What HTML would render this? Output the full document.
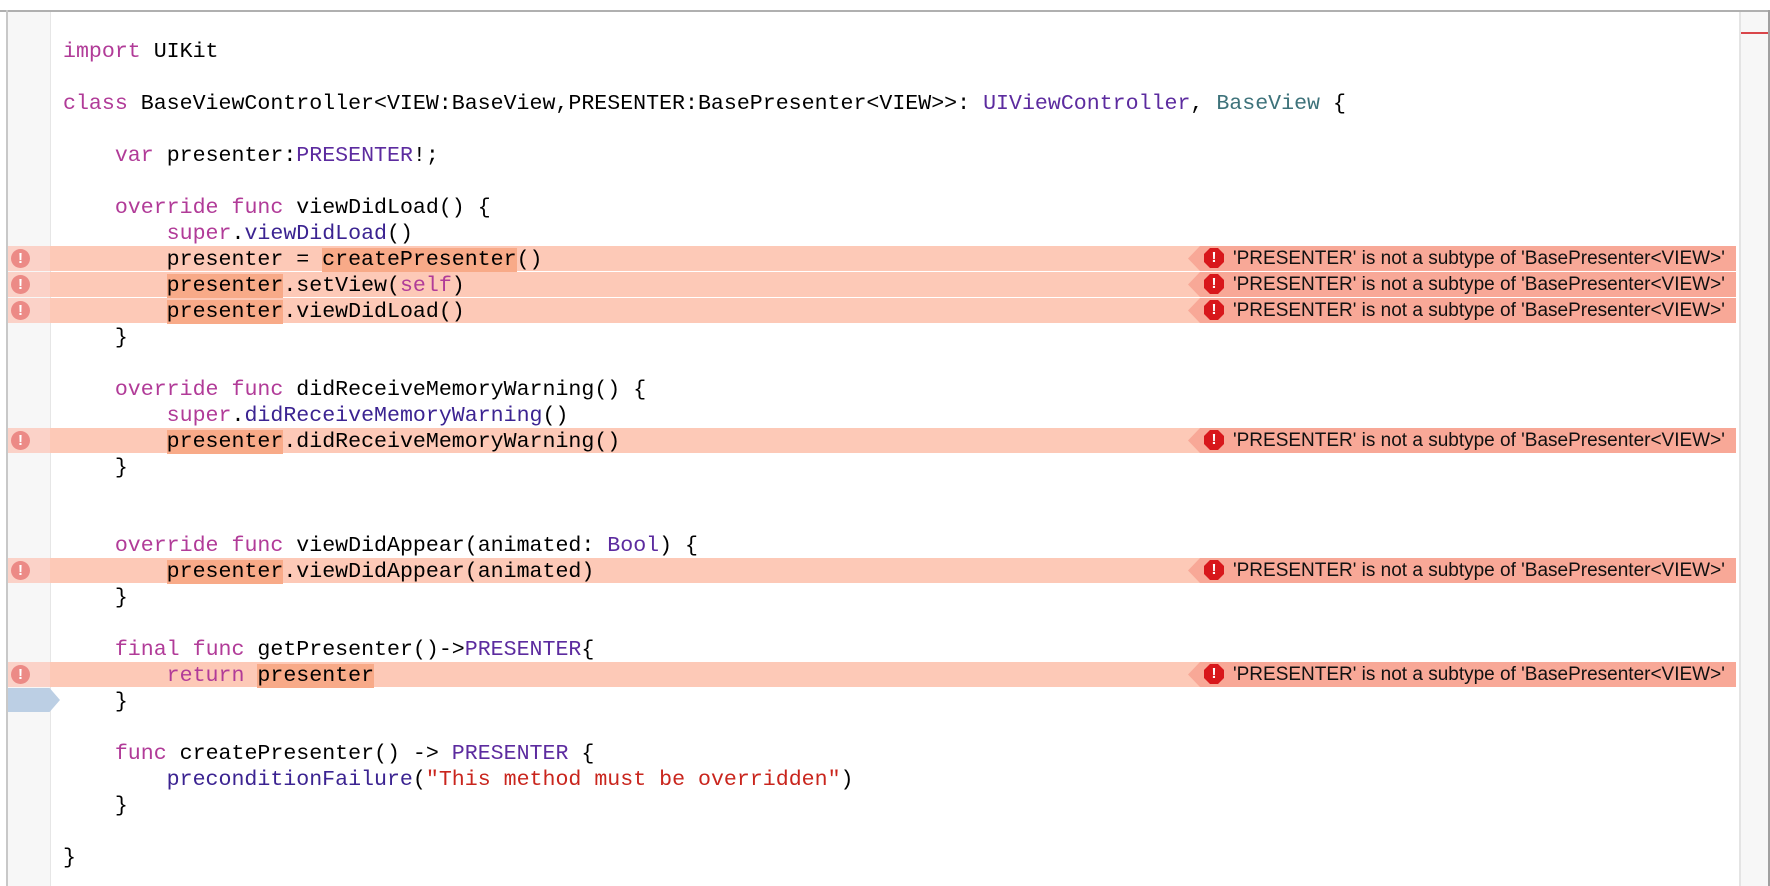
<!DOCTYPE html>
<html><head><meta charset="utf-8"><style>
html,body{margin:0;padding:0;width:1770px;height:886px;overflow:hidden;background:#fff;position:relative}
.top{position:absolute;left:0;top:10px;width:1770px;height:2px;background:#b0b0b0}
.lb{position:absolute;left:6px;top:10px;width:2px;height:876px;background:#c8c8c8}
.gut{position:absolute;left:8px;top:12px;width:42px;height:874px;background:#f7f7f7;border-right:1px solid #e6e6e6}
.rp{position:absolute;left:1739px;top:12px;width:29px;height:874px;background:#f7f7f7;border-left:2px solid #e4e4e4}
.rpl{position:absolute;left:1768px;top:10px;width:2px;height:876px;background:#a0a0a0}
.rmark{position:absolute;left:1741px;top:32px;width:27px;height:2px;background:#d9464a}
.ln{position:absolute;left:63px;height:26px;line-height:26px;font-family:"Liberation Mono",monospace;font-size:21.6px;white-space:pre;color:#000;margin-top:2px}
.k{color:#b13b98}.t{color:#5c2b9f}.c{color:#3d727a}.s{color:#c9251d}.m{color:#3b2391}
.h{background:#f8aa88;display:inline-block;height:24px;line-height:24px}
.er{position:absolute;left:8px;width:1728px;height:25px;background:#fdc9b7}
.eg{position:absolute;left:8px;width:42px;height:25px;background:#fbd2c8}
.ei{position:absolute;left:11px;width:19px;height:19px;border-radius:50%;background:#ec8a86;color:#fff;font:bold 15px/19px "Liberation Sans",sans-serif;text-align:center}
.bn{position:absolute;left:1188px;width:548px;height:25px;background:#f8a897;clip-path:polygon(12px 0,100% 0,100% 100%,12px 100%,0 50%)}
.oc{position:absolute;left:1204px;width:20px;height:20px;background:#d8171b;clip-path:polygon(30% 0,70% 0,100% 30%,100% 70%,70% 100%,30% 100%,0 70%,0 30%);color:#fff;font:bold 15px/20px "Liberation Sans",sans-serif;text-align:center}
.msg{position:absolute;left:1233px;height:25px;line-height:25px;font-family:"Liberation Sans",sans-serif;font-size:19px;color:#111;white-space:pre}
.blue{position:absolute;left:8px;top:688px;width:52px;height:24px;background:#bccfe4;clip-path:polygon(0 0,80% 0,100% 50%,80% 100%,0 100%)}
</style></head><body>
<div class="top"></div><div class="lb"></div><div class="gut"></div>
<div class="rp"></div><div class="rpl"></div><div class="rmark"></div>

<div class="er" style="top:246px"></div><div class="eg" style="top:246px"></div><div class="ei" style="top:249px">!</div><div class="bn" style="top:246px"></div><div class="oc" style="top:248px">!</div><div class="msg" style="top:246px">'PRESENTER' is not a subtype of 'BasePresenter&lt;VIEW&gt;'</div>
<div class="er" style="top:272px"></div><div class="eg" style="top:272px"></div><div class="ei" style="top:275px">!</div><div class="bn" style="top:272px"></div><div class="oc" style="top:274px">!</div><div class="msg" style="top:272px">'PRESENTER' is not a subtype of 'BasePresenter&lt;VIEW&gt;'</div>
<div class="er" style="top:298px"></div><div class="eg" style="top:298px"></div><div class="ei" style="top:301px">!</div><div class="bn" style="top:298px"></div><div class="oc" style="top:300px">!</div><div class="msg" style="top:298px">'PRESENTER' is not a subtype of 'BasePresenter&lt;VIEW&gt;'</div>
<div class="er" style="top:428px"></div><div class="eg" style="top:428px"></div><div class="ei" style="top:431px">!</div><div class="bn" style="top:428px"></div><div class="oc" style="top:430px">!</div><div class="msg" style="top:428px">'PRESENTER' is not a subtype of 'BasePresenter&lt;VIEW&gt;'</div>
<div class="er" style="top:558px"></div><div class="eg" style="top:558px"></div><div class="ei" style="top:561px">!</div><div class="bn" style="top:558px"></div><div class="oc" style="top:560px">!</div><div class="msg" style="top:558px">'PRESENTER' is not a subtype of 'BasePresenter&lt;VIEW&gt;'</div>
<div class="er" style="top:662px"></div><div class="eg" style="top:662px"></div><div class="ei" style="top:665px">!</div><div class="bn" style="top:662px"></div><div class="oc" style="top:664px">!</div><div class="msg" style="top:662px">'PRESENTER' is not a subtype of 'BasePresenter&lt;VIEW&gt;'</div>
<div class="blue"></div>

<div class="ln" style="top:37px"><span class="k">import</span> UIKit</div>
<div class="ln" style="top:89px"><span class="k">class</span> BaseViewController&lt;VIEW:BaseView,PRESENTER:BasePresenter&lt;VIEW&gt;&gt;: <span class="t">UIViewController</span>, <span class="c">BaseView</span> {</div>
<div class="ln" style="top:141px">    <span class="k">var</span> presenter:<span class="t">PRESENTER</span>!;</div>
<div class="ln" style="top:193px">    <span class="k">override</span> <span class="k">func</span> viewDidLoad() {</div>
<div class="ln" style="top:219px">        <span class="k">super</span>.<span class="m">viewDidLoad</span>()</div>
<div class="ln" style="top:245px">        presenter = <span class="h">createPresenter</span>()</div>
<div class="ln" style="top:271px">        <span class="h">presenter</span>.setView(<span class="k">self</span>)</div>
<div class="ln" style="top:297px">        <span class="h">presenter</span>.viewDidLoad()</div>
<div class="ln" style="top:323px">    }</div>
<div class="ln" style="top:375px">    <span class="k">override</span> <span class="k">func</span> didReceiveMemoryWarning() {</div>
<div class="ln" style="top:401px">        <span class="k">super</span>.<span class="m">didReceiveMemoryWarning</span>()</div>
<div class="ln" style="top:427px">        <span class="h">presenter</span>.didReceiveMemoryWarning()</div>
<div class="ln" style="top:453px">    }</div>
<div class="ln" style="top:531px">    <span class="k">override</span> <span class="k">func</span> viewDidAppear(animated: <span class="t">Bool</span>) {</div>
<div class="ln" style="top:557px">        <span class="h">presenter</span>.viewDidAppear(animated)</div>
<div class="ln" style="top:583px">    }</div>
<div class="ln" style="top:635px">    <span class="k">final</span> <span class="k">func</span> getPresenter()-&gt;<span class="t">PRESENTER</span>{</div>
<div class="ln" style="top:661px">        <span class="k">return</span> <span class="h">presenter</span></div>
<div class="ln" style="top:687px">    }</div>
<div class="ln" style="top:739px">    <span class="k">func</span> createPresenter() -&gt; <span class="t">PRESENTER</span> {</div>
<div class="ln" style="top:765px">        <span class="m">preconditionFailure</span>(<span class="s">"This method must be overridden"</span>)</div>
<div class="ln" style="top:791px">    }</div>
<div class="ln" style="top:843px">}</div>
</body></html>
